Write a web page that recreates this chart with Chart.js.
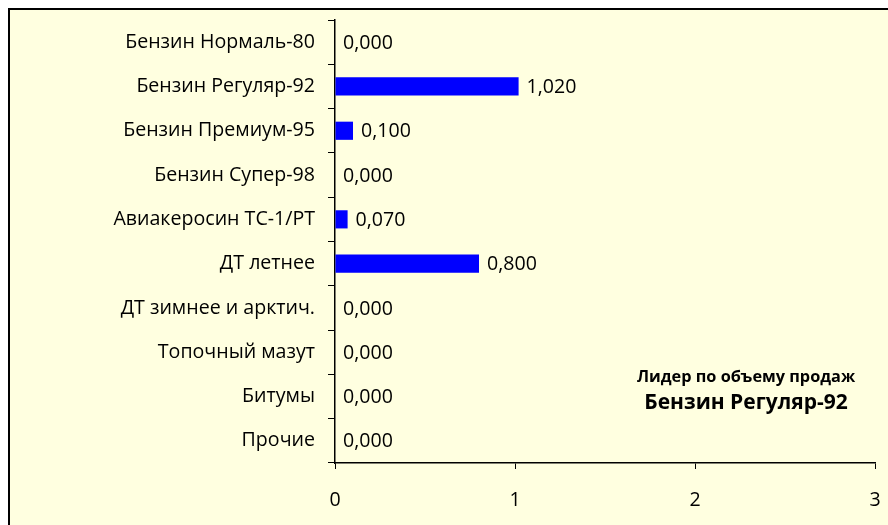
<!DOCTYPE html>
<html>
<head>
<meta charset="utf-8">
<script src="https://cdn.jsdelivr.net/npm/chart.js@4.4.0/dist/chart.umd.min.js"></script>
<style>
  html, body { margin: 0; padding: 0; background: #fff; }
  #wrap { position: relative; width: 888px; height: 525px; }
</style>
</head>
<body>
<div id="wrap"><canvas id="salesChart"></canvas></div>
<script>
const categories = [
    'Бензин Нормаль-80',
    'Бензин Регуляр-92',
    'Бензин Премиум-95',
    'Бензин Супер-98',
    'Авиакеросин ТС-1/РТ',
    'ДТ летнее',
    'ДТ зимнее и арктич.',
    'Топочный мазут',
    'Битумы',
    'Прочие'
];
const volumes = [0, 1.02, 0.1, 0, 0.07, 0.8, 0, 0, 0, 0];
const xTicks = [0, 1, 2, 3];
const noteLines = ['Лидер по объему продаж', 'Бензин Регуляр-92'];

const FONT = '"Open Sans", "DejaVu Sans", sans-serif';
const TXT = 19.6;

// Frame + yellow background
const framePlugin = {
    id: 'frame',
    beforeDraw(chart) {
        const c = chart.ctx;
        c.save();
        c.fillStyle = '#ffffff';
        c.fillRect(0, 0, chart.width, chart.height);
        c.fillStyle = '#FFFFE0';
        c.fillRect(8, 8, chart.width, chart.height);
        c.strokeStyle = '#000';
        c.lineWidth = 2;
        c.beginPath();
        c.moveTo(9, chart.height);
        c.lineTo(9, 9);
        c.lineTo(chart.width, 9);
        c.stroke();
        c.restore();
    }
};

// Value labels at bar ends + leader note
const valueLabels = {
    id: 'valueLabels',
    afterDatasetsDraw(chart) {
        const c = chart.ctx;
        const meta = chart.getDatasetMeta(0);
        c.save();
        c.font = TXT + 'px ' + FONT;
        c.fillStyle = '#000';
        c.textBaseline = 'middle';
        c.textAlign = 'left';
        meta.data.forEach((bar, i) => {
            const txt = volumes[i].toFixed(3).replace('.', ',');
            c.fillText(txt, bar.x + 8, bar.y + 1);
        });

        c.textAlign = 'center';
        c.font = 'bold 16.3px ' + FONT;
        c.fillText(noteLines[0], 746, 377);
        c.font = 'bold 21px ' + FONT;
        c.fillText(noteLines[1], 746, 403);
        c.restore();
    }
};

new Chart(document.getElementById('salesChart'), {
    type: 'bar',
    data: {
        labels: categories,
        datasets: [{
            data: volumes,
            backgroundColor: '#0000FF',
            borderWidth: 0,
            categoryPercentage: 1,
            barPercentage: 0.41
        }]
    },
    options: {
        indexAxis: 'y',
        responsive: true,
        maintainAspectRatio: false,
        animation: false,
        layout: { padding: { top: 20, right: 13, left: 0, bottom: 0 } },
        plugins: {
            legend: { display: false },
            tooltip: { enabled: false }
        },
        scales: {
            x: {
                min: 0,
                max: 3,
                afterBuildTicks: s => { s.ticks = xTicks.map(v => ({ value: v })); },
                afterFit: s => { s.height = 62; s.paddingLeft = 0; s.paddingRight = 0; },
                grid: { drawOnChartArea: false, drawTicks: true, tickLength: 6, color: '#000' },
                border: { display: true, color: '#000', width: 1.5 },
                ticks: { color: '#000', font: { family: FONT, size: TXT }, padding: 20, maxRotation: 0 }
            },
            y: {
                afterFit: s => { s.width = 335; s.paddingTop = 0; s.paddingBottom = 0; },
                grid: { drawOnChartArea: false, drawTicks: true, tickLength: 7, color: '#000', offset: true },
                border: { display: true, color: '#000', width: 1.5 },
                ticks: { color: '#000', font: { family: FONT, size: TXT }, padding: 13 }
            }
        }
    },
    plugins: [framePlugin, valueLabels]
});
</script>
</body>
</html>
